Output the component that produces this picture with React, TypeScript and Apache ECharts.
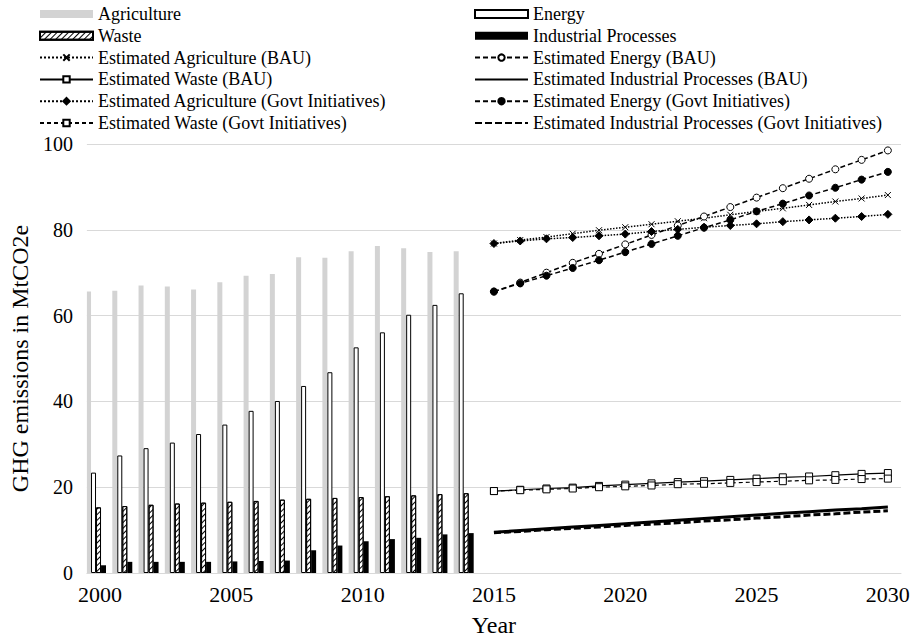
import React, { useEffect, useRef } from "react";
import * as echarts from "echarts";

const years = Array.from({ length: 31 }, (_, i) => String(2000 + i));

// Historical 2000-2014
const agriculture = [65.6, 65.8, 67.0, 66.8, 66.1, 67.8, 69.3, 69.7, 73.6, 73.5, 75.0, 76.2, 75.7, 74.8, 75.0];
const energy = [23.4, 27.4, 29.1, 30.4, 32.4, 34.6, 37.8, 40.1, 43.6, 46.8, 52.6, 56.1, 60.2, 62.5, 65.2];
const waste = [15.3, 15.6, 15.9, 16.2, 16.4, 16.6, 16.8, 17.1, 17.3, 17.5, 17.7, 17.9, 18.1, 18.4, 18.6];
const industrial = [1.8, 2.6, 2.6, 2.6, 2.6, 2.7, 2.8, 2.9, 5.3, 6.4, 7.4, 7.9, 8.2, 9.0, 9.3];

// Estimates 2015-2030
const estAgriBAU = [76.8, 77.6, 78.3, 79.1, 79.9, 80.6, 81.3, 82.0, 82.7, 83.5, 84.3, 85.0, 85.8, 86.6, 87.3, 88.1];
const estEnergyBAU = [65.6, 67.7, 70.0, 72.3, 74.4, 76.6, 78.8, 81.0, 83.1, 85.3, 87.5, 89.7, 91.9, 94.1, 96.3, 98.5];
const estWasteBAU = [19.1, 19.4, 19.7, 19.9, 20.3, 20.6, 20.9, 21.2, 21.4, 21.7, 22.0, 22.3, 22.5, 22.8, 23.1, 23.3];
const estIndBAU = [9.5, 9.9, 10.3, 10.7, 11.1, 11.5, 11.9, 12.3, 12.7, 13.1, 13.5, 13.9, 14.3, 14.7, 15.0, 15.4];
const estAgriGov = [76.8, 77.4, 77.9, 78.2, 78.6, 79.0, 79.6, 80.1, 80.6, 81.0, 81.4, 81.9, 82.3, 82.7, 83.1, 83.6];
const estEnergyGov = [65.6, 67.5, 69.3, 71.1, 72.9, 74.8, 76.7, 78.6, 80.5, 82.3, 84.3, 86.1, 88.0, 89.8, 91.7, 93.5];
const estWasteGov = [19.1, 19.3, 19.5, 19.7, 20.0, 20.2, 20.4, 20.7, 20.8, 21.0, 21.2, 21.4, 21.6, 21.7, 21.9, 22.0];
const estIndGov = [9.4, 9.7, 10.1, 10.4, 10.7, 11.1, 11.4, 11.7, 12.1, 12.4, 12.8, 13.1, 13.5, 13.8, 14.2, 14.5];

const FONT = "Liberation Serif";
const pad = (arr: number[]) => [...Array(15).fill(null), ...arr];

export default function App() {
  const ref = useRef<HTMLDivElement>(null);
  useEffect(() => {
    if (!ref.current) return;
    const chart = echarts.init(ref.current, null, { renderer: "svg" });
    const lineBase = (name: string, data: number[], lineType: any, width: number, symbol: string, size: number, fill: string, border = "#000") => ({
      name,
      type: "line",
      data: pad(data),
      z: 5,
      symbol,
      symbolSize: size,
      showSymbol: size > 0,
      lineStyle: { color: "#000", width, type: lineType },
      itemStyle: { color: fill, borderColor: border, borderWidth: 1 },
    });
    const legendCommon = {
      top: 5,
      padding: 0,
      orient: "vertical",
      itemWidth: 53,
      itemHeight: 8,
      itemGap: 3.8,
      textStyle: { fontFamily: FONT, fontSize: 18, color: "#000", lineHeight: 18 },
    };
    chart.setOption({
      animation: false,
      textStyle: { fontFamily: FONT, color: "#000" },
      grid: { left: 80, right: 17, top: 144, bottom: 64 },
      legend: [
        {
          ...legendCommon,
          left: 39,
          data: [
            { name: "Agriculture", icon: "rect" },
            { name: "Waste", icon: "rect" },
            "Estimated Agriculture (BAU)",
            "Estimated Waste (BAU)",
            "Estimated Agriculture (Govt Initiatives)",
            "Estimated Waste (Govt Initiatives)",
          ],
        },
        {
          ...legendCommon,
          left: 474,
          data: [
            { name: "Energy", icon: "rect" },
            { name: "Industrial Processes", icon: "rect" },
            "Estimated Energy (BAU)",
            "Estimated Industrial Processes (BAU)",
            "Estimated Energy (Govt Initiatives)",
            "Estimated Industrial Processes (Govt Initiatives)",
          ],
        },
      ],
      xAxis: {
        type: "category",
        data: years,
        boundaryGap: true,
        axisTick: { show: false },
        axisLine: { lineStyle: { color: "#d9d9d9", width: 1 } },
        axisLabel: { interval: 4, fontSize: 22, color: "#000", fontFamily: FONT, margin: 10 },
        name: "Year",
        nameLocation: "middle",
        nameGap: 40,
        nameTextStyle: { fontSize: 24, color: "#000", fontFamily: FONT },
      },
      yAxis: {
        type: "value",
        min: 0,
        max: 100,
        interval: 20,
        axisLine: { show: false },
        axisTick: { show: false },
        splitLine: { lineStyle: { color: "#d9d9d9", width: 1 } },
        axisLabel: { fontSize: 20, color: "#000", fontFamily: FONT, margin: 14 },
        name: "GHG emissions in MtCO2e",
        nameLocation: "middle",
        nameGap: 51,
        nameTextStyle: { fontSize: 24, color: "#000", fontFamily: FONT },
      },
      series: [
        { name: "Agriculture", type: "bar", data: agriculture, barWidth: 5, barGap: "0%", itemStyle: { color: "#d3d3d3" } },
        { name: "Energy", type: "bar", data: energy, barWidth: 5, barGap: "0%", itemStyle: { color: "#fff", borderColor: "#000", borderWidth: 1 } },
        {
          name: "Waste",
          type: "bar",
          data: waste,
          barWidth: 5,
          barGap: "0%",
          itemStyle: {
            color: "#fff",
            borderColor: "#000",
            borderWidth: 1,
            decal: { symbol: "rect", color: "#000", symbolSize: 1, dashArrayX: [1, 0], dashArrayY: [1, 2.5], rotation: -Math.PI / 4 },
          },
        },
        { name: "Industrial Processes", type: "bar", data: industrial, barWidth: 5, barGap: "0%", itemStyle: { color: "#000" } },
        { name: "spacer", type: "bar", data: [], barWidth: 8, barGap: "0%", silent: true, itemStyle: { color: "transparent" } },
        lineBase("Estimated Agriculture (BAU)", estAgriBAU, "dotted", 1.5, "path://M0,0L10,10M10,0L0,10", 6, "none"),
        lineBase("Estimated Energy (BAU)", estEnergyBAU, [5, 3], 1.5, "circle", 7, "#fff"),
        lineBase("Estimated Waste (BAU)", estWasteBAU, "solid", 1.2, "rect", 7, "#fff"),
        lineBase("Estimated Industrial Processes (BAU)", estIndBAU, "solid", 3, "circle", 0, "transparent", "transparent"),
        lineBase("Estimated Agriculture (Govt Initiatives)", estAgriGov, "dotted", 1.5, "diamond", 8, "#000"),
        lineBase("Estimated Energy (Govt Initiatives)", estEnergyGov, [5, 3], 1.5, "circle", 7, "#000"),
        lineBase("Estimated Waste (Govt Initiatives)", estWasteGov, [4, 3], 1.2, "rect", 7, "#fff"),
        lineBase("Estimated Industrial Processes (Govt Initiatives)", estIndGov, [7, 3], 3, "circle", 0, "transparent", "transparent"),
      ],
    });
    return () => chart.dispose();
  }, []);
  return <div ref={ref} style={{ position: "fixed", left: 0, top: 0, width: 918, height: 642, background: "#fff" }} />;
}
